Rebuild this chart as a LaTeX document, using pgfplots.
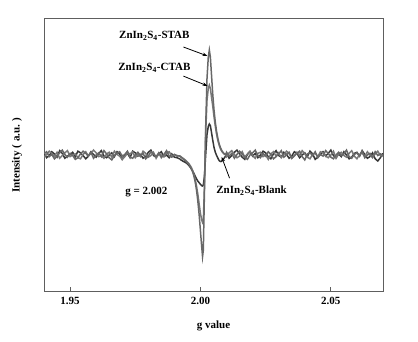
\documentclass[border=0pt]{standalone}
\usepackage{pgfplots}
\pgfplotsset{compat=1.18}
\usepackage{pgfplotstable}
\usepackage{fontspec}
\setmainfont{Liberation Serif}
\usetikzlibrary{arrows.meta}
\newcommand\ff{\fontsize{11bp}{13bp}\selectfont\bfseries}
\definecolor{axgray}{HTML}{5E5E5E}
\definecolor{cstab}{HTML}{686868}
\definecolor{cctab}{HTML}{787878}
\definecolor{cblank}{HTML}{363636}

\pgfplotstableread{
g s c b
1.940 0.504 0.492 0.506
1.941 0.512 0.502 0.490
1.942 0.494 0.514 0.498
1.943 0.502 0.506 0.512
1.944 0.486 0.496 0.504
1.945 0.496 0.510 0.492
1.946 0.508 0.488 0.516
1.947 0.518 0.498 0.506
1.948 0.502 0.508 0.488
1.949 0.492 0.516 0.496
1.950 0.506 0.494 0.502
1.951 0.498 0.500 0.510
1.952 0.484 0.504 0.494
1.953 0.490 0.490 0.514
1.954 0.504 0.486 0.508
1.955 0.514 0.502 0.498
1.956 0.506 0.512 0.486
1.957 0.496 0.496 0.496
1.958 0.510 0.506 0.512
1.959 0.488 0.518 0.502
1.960 0.500 0.508 0.492
1.961 0.508 0.494 0.506
1.962 0.494 0.498 0.516
1.963 0.516 0.488 0.496
1.964 0.504 0.504 0.490
1.965 0.490 0.510 0.500
1.966 0.482 0.492 0.508
1.967 0.498 0.514 0.494
1.968 0.506 0.502 0.512
1.969 0.512 0.496 0.504
1.970 0.496 0.484 0.484
1.971 0.502 0.494 0.498
1.972 0.514 0.508 0.506
1.973 0.492 0.504 0.490
1.974 0.488 0.512 0.514
1.975 0.500 0.490 0.508
1.976 0.510 0.502 0.496
1.977 0.498 0.494 0.502
1.978 0.506 0.514 0.488
1.979 0.486 0.506 0.494
1.980 0.496 0.492 0.510
1.981 0.512 0.498 0.518
1.982 0.504 0.510 0.498
1.983 0.494 0.488 0.492
1.984 0.508 0.504 0.504
1.985 0.490 0.500 0.512
1.986 0.502 0.494 0.494
1.987 0.516 0.508 0.500
1.988 0.496 0.512 0.490
1.989 0.492 0.496 0.504
1.990 0.502 0.502 0.492
1.991 0.498 0.496 0.490
1.9920 0.496 0.497 0.486
1.9925 0.492 0.494 0.482
1.9930 0.488 0.490 0.479
1.9935 0.484 0.487 0.476
1.9940 0.480 0.483 0.474
1.9945 0.476 0.479 0.471
1.9950 0.471 0.474 0.467
1.9955 0.466 0.469 0.462
1.9960 0.459 0.462 0.456
1.9965 0.450 0.454 0.449
1.9970 0.438 0.443 0.441
1.9975 0.422 0.428 0.432
1.9980 0.400 0.410 0.422
1.9985 0.370 0.385 0.412
1.9990 0.330 0.355 0.404
1.9995 0.280 0.320 0.398
2.0000 0.220 0.285 0.392
2.0005 0.160 0.260 0.387
2.0008 0.126 0.252 0.386
2.0011 0.150 0.260 0.390
2.0015 0.350 0.380 0.420
2.0020 0.600 0.580 0.500
2.0025 0.780 0.700 0.575
2.0030 0.860 0.745 0.605
2.0034 0.886 0.757 0.614
2.0038 0.860 0.745 0.608
2.0042 0.800 0.715 0.585
2.0047 0.725 0.680 0.555
2.0052 0.665 0.640 0.528
2.0057 0.620 0.605 0.510
2.0062 0.585 0.575 0.498
2.0067 0.560 0.552 0.488
2.0072 0.540 0.535 0.479
2.0077 0.526 0.522 0.476
2.0082 0.516 0.513 0.478
2.0087 0.509 0.507 0.483
2.0092 0.504 0.503 0.490
2.0097 0.501 0.500 0.497
2.010 0.510 0.494 0.506
2.011 0.496 0.508 0.488
2.012 0.506 0.516 0.498
2.013 0.488 0.502 0.510
2.014 0.502 0.490 0.518
2.015 0.514 0.496 0.504
2.016 0.504 0.512 0.492
2.017 0.492 0.492 0.484
2.018 0.484 0.504 0.502
2.019 0.500 0.514 0.512
2.020 0.508 0.498 0.496
2.021 0.518 0.488 0.506
2.022 0.498 0.506 0.490
2.023 0.490 0.510 0.500
2.024 0.506 0.494 0.514
2.025 0.496 0.500 0.508
2.026 0.512 0.484 0.494
2.027 0.502 0.504 0.486
2.028 0.486 0.512 0.504
2.029 0.494 0.496 0.516
2.030 0.504 0.508 0.498
2.031 0.516 0.490 0.492
2.032 0.492 0.502 0.510
2.033 0.500 0.514 0.502
2.034 0.510 0.506 0.488
2.035 0.488 0.488 0.496
2.036 0.498 0.496 0.512
2.037 0.506 0.510 0.506
2.038 0.514 0.498 0.490
2.039 0.494 0.516 0.500
2.040 0.482 0.504 0.508
2.041 0.504 0.492 0.494
2.042 0.508 0.486 0.514
2.043 0.498 0.502 0.504
2.044 0.512 0.506 0.484
2.045 0.490 0.494 0.492
2.046 0.502 0.512 0.502
2.047 0.496 0.508 0.512
2.048 0.516 0.496 0.496
2.049 0.506 0.490 0.506
2.050 0.492 0.500 0.518
2.051 0.486 0.514 0.498
2.052 0.500 0.488 0.490
2.053 0.510 0.504 0.504
2.054 0.498 0.510 0.494
2.055 0.504 0.498 0.512
2.056 0.518 0.492 0.500
2.057 0.494 0.506 0.486
2.058 0.488 0.516 0.492
2.059 0.502 0.496 0.506
2.060 0.508 0.486 0.510
2.061 0.496 0.502 0.496
2.062 0.514 0.508 0.516
2.063 0.490 0.494 0.502
2.064 0.500 0.512 0.488
2.065 0.506 0.500 0.494
2.066 0.492 0.490 0.508
2.067 0.512 0.504 0.486
2.068 0.498 0.514 0.478
2.069 0.504 0.498 0.490
2.070 0.500 0.496 0.506
}\esrdata

\begin{document}
\begin{tikzpicture}
\begin{axis}[
  scale only axis, width=339bp, height=272bp,
  xmin=1.94, xmax=2.07, ymin=0, ymax=1,
  axis line style={axgray, line width=1pt},
  xtick={1.95,2.00,2.05}, xticklabels={1.95,2.00,2.05},
  xtick pos=bottom, tick align=inside, ytick=\empty,
  major tick length=4bp,
  tick style={axgray, line width=0.8pt},
  xticklabel style={font=\ff, yshift=-3bp},
  xlabel={g value}, ylabel={Intensity ( a.u. )},
  every axis x label/.style={at={(axis description cs:0.5,0)}, yshift=-35bp, anchor=center, font=\ff},
  every axis y label/.style={at={(axis description cs:0,0.5)}, xshift=-27bp, anchor=center, rotate=90, font=\ff},
  clip=true,
]
\addplot[cblank, line width=1.5pt] table[x=g, y=b] {\esrdata};
\addplot[cctab, line width=1.5pt] table[x=g, y=c] {\esrdata};
\addplot[cstab, line width=1.5pt] table[x=g, y=s] {\esrdata};

\node[font=\ff] at (axis cs:1.9823,0.9375) {ZnIn\textsubscript{2}S\textsubscript{4}-STAB};
\node[font=\ff] at (axis cs:1.9823,0.820) {ZnIn\textsubscript{2}S\textsubscript{4}-CTAB};
\node[font=\ff] at (axis cs:2.0196,0.368) {ZnIn\textsubscript{2}S\textsubscript{4}-Blank};
\node[font=\ff] at (axis cs:1.97923,0.364) {g = 2.002};
\draw[-{Stealth[length=5bp,width=3.5bp]}, line width=0.8pt] (axis cs:1.99346,0.897) -- (axis cs:2.0027,0.864);
\draw[-{Stealth[length=5bp,width=3.5bp]}, line width=0.8pt] (axis cs:1.99346,0.790) -- (axis cs:2.0027,0.754);
\draw[-{Stealth[length=5bp,width=3.5bp]}, line width=0.8pt] (axis cs:2.01115,0.415) -- (axis cs:2.0081,0.493);
\end{axis}
\pgfresetboundingbox
\path[use as bounding box] (-44bp,-51bp) rectangle (374bp,291bp);
\end{tikzpicture}
\end{document}
